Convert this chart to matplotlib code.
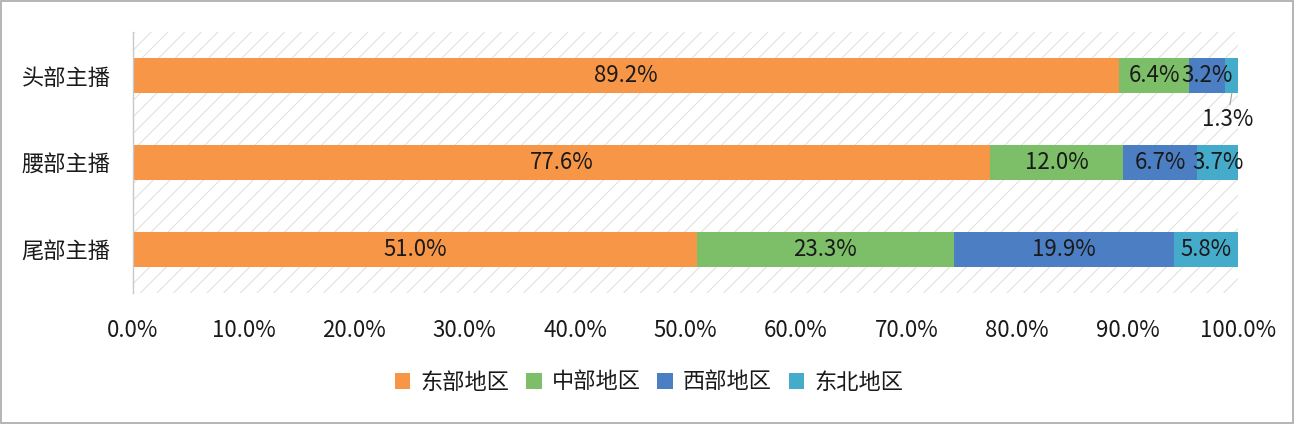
import matplotlib
matplotlib.use("Agg")
import matplotlib.pyplot as plt
from matplotlib.patches import Rectangle
from matplotlib.ticker import FuncFormatter

plt.rcParams['font.family'] = ['Noto Sans CJK SC', 'DejaVu Sans']
plt.rcParams['hatch.linewidth'] = 0.7

# --- data ---
categories = ["头部主播", "腰部主播", "尾部主播"]
series_names = ["东部地区", "中部地区", "西部地区", "东北地区"]
east = [89.2, 77.6, 51.0]
central = [6.4, 12.0, 23.3]
west = [3.2, 6.7, 19.9]
northeast = [1.3, 3.7, 5.8]
xticks = [0, 10, 20, 30, 40, 50, 60, 70, 80, 90, 100]

colors = ["#F79646", "#7DBE68", "#4C7EC4", "#45ABCB"]
series = [east, central, west, northeast]
FS = 16
TXT = "#1a1a1a"

fig = plt.figure(figsize=(12.94, 4.24), dpi=100)
ax = fig.add_axes([133 / 1294, 1 - 293 / 424, 1105 / 1294, 261 / 424])

# hatched plot background
ax.add_patch(Rectangle((0, 0), 1, 1, transform=ax.transAxes, facecolor="white",
                       edgecolor="#E2DED8", hatch="//", linewidth=0, zorder=0))

ypos = list(range(len(categories)))
left = [0.0] * len(categories)
for name, vals, col in zip(series_names, series, colors):
    ax.barh(ypos, vals, left=left, height=0.40, color=col, label=name, zorder=2)
    for i, v in enumerate(vals):
        cx = left[i] + v / 2
        if v < 2:
            # small segment: label outside with leader line
            ax.annotate(f"{v:.1f}%", xy=(cx, i + 0.2), xytext=(cx - 0.4, i + 0.5),
                        ha="center", va="center", fontsize=FS, color=TXT,
                        arrowprops=dict(arrowstyle="-", color="#A0A0A0", lw=0.8,
                                        shrinkA=11, shrinkB=0))
        else:
            ax.text(cx, i, f"{v:.1f}%", ha="center", va="center",
                    fontsize=FS, color=TXT, zorder=3)
    left = [l + v for l, v in zip(left, vals)]

ax.set_xlim(0, 100)
ax.set_ylim(2.5, -0.5)
ax.set_yticks(ypos)
ax.set_yticklabels(categories, fontsize=FS, color=TXT)
ax.set_xticks(xticks)
ax.xaxis.set_major_formatter(FuncFormatter(lambda x, p: f"{x:.1f}%"))
ax.tick_params(axis="x", labelsize=FS, colors=TXT, length=0, pad=19)
ax.tick_params(axis="y", length=0, pad=16)
for s in ["top", "right", "bottom"]:
    ax.spines[s].set_visible(False)
ax.spines["left"].set_color("#C8C8C8")
ax.spines["left"].set_linewidth(1.0)

fig.legend(loc="center", bbox_to_anchor=(649 / 1294, 1 - 382 / 424), ncol=4,
           frameon=False, fontsize=FS, handlelength=0.7, handleheight=0.7,
           handletextpad=0.45, columnspacing=0.75, labelcolor=TXT)

# outer border
fig.patches.append(Rectangle((0.001, 0.002), 0.998, 0.996, transform=fig.transFigure,
                             fill=False, edgecolor="#A8A8A8", linewidth=1.2))

fig.savefig("out.png", dpi=100)
